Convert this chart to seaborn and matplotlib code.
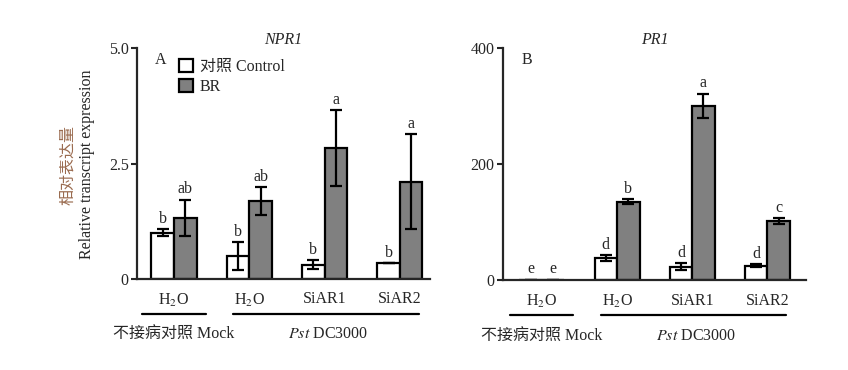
import numpy as np
import pandas as pd
import matplotlib
matplotlib.use("Agg")
import matplotlib.pyplot as plt
from matplotlib.patches import Patch
import seaborn as sns

# groups along x (ids are unique, shown labels repeat)
groups = ["Mock_H2O", "Pst_H2O", "Pst_SiAR1", "Pst_SiAR2"]
tick_labels = ["H$_2$O", "H$_2$O", "SiAR1", "SiAR2"]
treatments = ["Control", "BR"]

# NPR1 (panel A)
npr1_control = [1.00, 0.50, 0.31, 0.35]
npr1_br = [1.33, 1.69, 2.84, 2.11]
npr1_control_err = [0.08, 0.30, 0.10, 0.0]
npr1_br_err = [0.39, 0.30, 0.82, 1.03]
npr1_control_sig = ["b", "b", "b", "b"]
npr1_br_sig = ["ab", "ab", "a", "a"]

# PR1 (panel B)
pr1_control = [1.0, 38.5, 23.0, 25.0]
pr1_br = [1.0, 135.0, 300.5, 102.0]
pr1_control_err = [0.0, 5.0, 6.0, 2.0]
pr1_br_err = [0.0, 4.0, 21.0, 5.0]
pr1_control_sig = ["e", "d", "d", "d"]
pr1_br_sig = ["e", "b", "a", "c"]

sns.set_style("ticks")
plt.rcParams["font.family"] = ["Liberation Serif", "Noto Sans CJK SC"]
plt.rcParams["mathtext.fontset"] = "stix"

SERIF = ["Liberation Serif", "Noto Sans CJK SC"]
FS = 11.5

fig = plt.figure(figsize=(8.48, 3.70), dpi=100)
axA = fig.add_axes([0.1616, 0.246, 0.3455, 0.624])
axB = fig.add_axes([0.593, 0.243, 0.358, 0.627])


def draw_panel(ax, ctrl, br, ctrl_err, br_err, ctrl_sig, br_sig, ymax, yticks,
               yticklabels, title, letter, xlim, sig_pad):
    df = pd.DataFrame({
        "group": groups * 2,
        "treatment": ["Control"] * 4 + ["BR"] * 4,
        "value": ctrl + br,
    })
    sns.barplot(data=df, x="group", y="value", hue="treatment",
                hue_order=treatments, order=groups,
                palette={"Control": "white", "BR": "#808080"},
                edgecolor="black", linewidth=1.6, width=0.6,
                errorbar=None, legend=False, ax=ax)
    for cont, vals, errs, sigs in zip(ax.containers, [ctrl, br],
                                      [ctrl_err, br_err], [ctrl_sig, br_sig]):
        xs = [p.get_x() + p.get_width() / 2 for p in cont.patches]
        ax.errorbar(xs, vals, yerr=errs, fmt="none", ecolor="black",
                    elinewidth=1.6, capsize=4, capthick=1.6)
        for x, v, e, s in zip(xs, vals, errs, sigs):
            ax.text(x, v + e + sig_pad, s, ha="center", va="bottom",
                    fontsize=FS, family=SERIF)
    ax.set_ylim(0, ymax)
    ax.set_xlim(*xlim)
    ax.set_yticks(yticks)
    ax.set_yticklabels(yticklabels, fontsize=FS, family=SERIF)
    ax.set_xticks(range(4))
    ax.set_xticklabels(tick_labels, fontsize=FS, family=SERIF)
    ax.tick_params(axis="x", length=0, pad=9)
    ax.tick_params(axis="y", length=4, width=1.5, direction="out", pad=2)
    ax.set_xlabel("")
    ax.set_ylabel("")
    for side in ["top", "right"]:
        ax.spines[side].set_visible(False)
    for side in ["left", "bottom"]:
        ax.spines[side].set_linewidth(1.6)
    ax.set_title(title, fontsize=FS, style="italic", family=SERIF, pad=1)
    ax.text(0.08, 0.95, letter, transform=ax.transAxes, fontsize=FS,
            family=SERIF, ha="center", va="center")
    # group brackets below tick labels
    trans = ax.get_xaxis_transform()
    ax.plot([-0.42, 0.42], [-0.15, -0.15], color="black", lw=1.6,
            transform=trans, clip_on=False)
    ax.plot([0.78, 3.25], [-0.15, -0.15], color="black", lw=1.6,
            transform=trans, clip_on=False)
    ax.text(0.0, -0.24, "不接病对照 Mock", transform=trans, ha="center",
            va="center", fontsize=FS, family=SERIF)
    ax.text(2.05, -0.24, "$\\mathit{Pst}$ DC3000", transform=trans,
            ha="center", va="center", fontsize=FS, family=SERIF)


draw_panel(axA, npr1_control, npr1_br, npr1_control_err, npr1_br_err,
           npr1_control_sig, npr1_br_sig, 5.0, [0, 2.5, 5.0],
           ["0", "2.5", "5.0"], "NPR1", "A", (-0.49, 3.4), 0.05)
draw_panel(axB, pr1_control, pr1_br, pr1_control_err, pr1_br_err,
           pr1_control_sig, pr1_br_sig, 400, [0, 200, 400],
           ["0", "200", "400"], "PR1", "B", (-0.52, 3.52), 4)

# legend in panel A
handles = [Patch(facecolor="white", edgecolor="black", linewidth=1.6),
           Patch(facecolor="#808080", edgecolor="black", linewidth=1.6)]
axA.legend(handles, ["对照 Control", "BR"], loc="upper left",
           bbox_to_anchor=(0.11, 0.995), frameon=False, handlelength=0.9,
           handleheight=0.9, handletextpad=0.4, labelspacing=0.25,
           borderaxespad=0.2, prop={"family": SERIF, "size": FS})

# two-line y label
fig.text(0.080, 0.555, "相对表达量", rotation=90, ha="center", va="center",
         fontsize=FS, color="#9a6b4f", family=SERIF)
fig.text(0.103, 0.555, "Relative transcript expression", rotation=90,
         ha="center", va="center", fontsize=FS, family=SERIF)

fig.savefig("out.png", dpi=100)
